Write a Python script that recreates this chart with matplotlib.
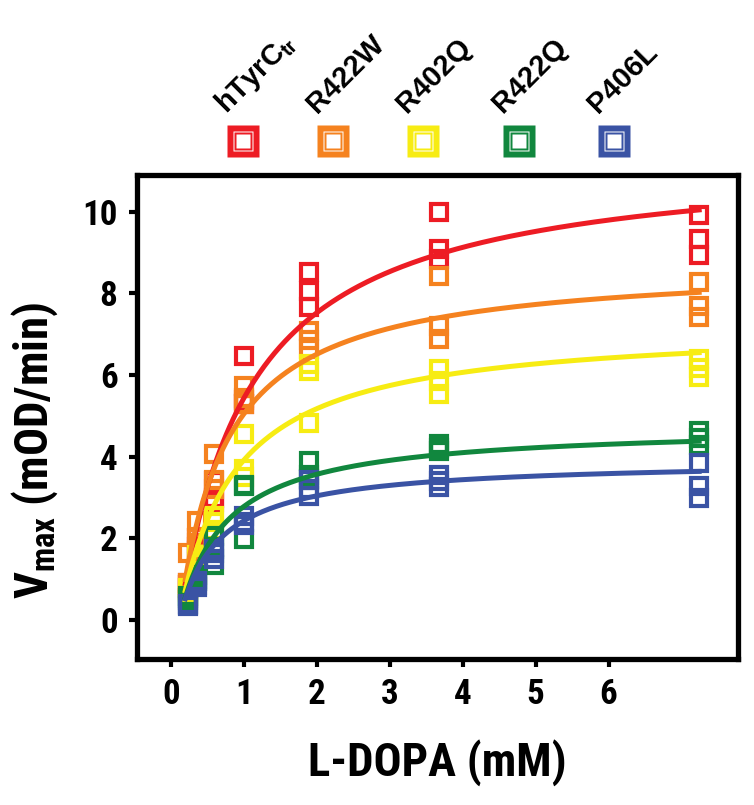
import matplotlib
matplotlib.use("Agg")
import matplotlib.pyplot as plt
from matplotlib import font_manager
from matplotlib.lines import Line2D
import numpy as np

# the original uses a narrow bold sans; take one if it is installed
installed = {f.name for f in font_manager.fontManager.ttflist}
narrow = None
for name in ['Liberation Sans Narrow', 'Roboto Condensed', 'Open Sans Condensed']:
    if name in installed:
        narrow = name
        break
axis_font = [narrow or 'Liberation Sans', 'DejaVu Sans']
scale = 1.2 if narrow else 1.0

plt.rcParams['font.family'] = ['Liberation Sans', 'DejaVu Sans']
plt.rcParams['font.weight'] = 'bold'
plt.rcParams['mathtext.fontset'] = 'custom'
plt.rcParams['mathtext.rm'] = (narrow or 'Liberation Sans') + ':bold'
plt.rcParams['mathtext.it'] = (narrow or 'Liberation Sans') + ':bold'
plt.rcParams['mathtext.bf'] = (narrow or 'Liberation Sans') + ':bold'

# substrate concentrations (mM)
ldopa = [0.1, 0.2, 0.4, 0.75, 1.5, 3, 6]

# triplicate velocities (mOD/min), one list of 3 per concentration
wt = [[0.9, 0.85, 0.8], [2.0, 1.8, 1.7], [3.4, 3.0, 2.9], [6.47, 5.4, 5.3],
      [8.52, 8.07, 7.66], [9.99, 9.09, 8.85], [9.93, 9.34, 8.93]]
r422w = [[1.65, 0.9, 0.85], [2.42, 2.0, 1.9], [4.08, 3.42, 3.2], [5.73, 5.45, 5.3],
         [7.08, 6.85, 6.63], [8.42, 7.2, 6.88], [8.27, 7.70, 7.42]]
r402q = [[0.8, 0.75, 0.7], [1.6, 1.5, 1.4], [2.55, 2.4, 2.2], [4.55, 3.7, 3.5],
         [6.27, 6.1, 4.83], [6.15, 5.85, 5.55], [6.39, 6.17, 5.95]]
r422q = [[0.6, 0.55, 0.5], [1.1, 1.0, 0.95], [2.05, 1.8, 1.35], [3.32, 3.29, 1.98],
         [3.89, 3.55, 3.45], [4.32, 4.22, 4.15], [4.63, 4.45, 4.28]]
p406l = [[0.4, 0.37, 0.34], [0.95, 0.86, 0.82], [1.75, 1.64, 1.5], [2.54, 2.4, 2.33],
         [3.44, 3.2, 3.05], [3.56, 3.4, 3.25], [3.85, 3.28, 3.0]]

# Michaelis-Menten fit parameters
vmax = [11.42, 8.76, 7.24, 4.77, 3.92]
km = [0.821, 0.548, 0.632, 0.532, 0.456]

labels = [r'hTyrC$_\mathrm{tr}$', 'R422W', 'R402Q', 'R422Q', 'P406L']
colors = ['#ED1C24', '#F5821F', '#F7EC13', '#11873E', '#3A53A4']
series = [wt, r422w, r402q, r422q, p406l]

# x tick labels as printed on the original axis
xtick_labels = ['0', '1', '2', '3', '4', '5', '6']
xtick_pos = [-0.098 + 0.842 * k for k in range(7)]

fig = plt.figure(figsize=(7.54, 8.05), dpi=100)
ax = fig.add_axes([0.1817, 0.1814, 0.7973, 0.6012])

xs = np.linspace(0.07, 6, 300)
for vals, vm, k, c in zip(series, vmax, km, colors):
    for conc, reps in zip(ldopa, vals):
        ax.plot([conc] * len(reps), reps, linestyle='none', marker='s', markersize=11.5,
                markeredgewidth=3.0, markeredgecolor=c, markerfacecolor='none', zorder=3)
    ax.plot(xs, vm * xs / (k + xs), color=c, linewidth=3.6, zorder=4)

ax.set_xlim(-0.487, 6.45)
ax.set_ylim(-0.95, 10.9)
ax.set_xticks(xtick_pos)
ax.set_xticklabels(xtick_labels)
ax.set_yticks([0, 2, 4, 6, 8, 10])
for s in ax.spines.values():
    s.set_linewidth(3.8)
ax.tick_params(direction='out', length=6, width=3, labelsize=21 * scale, pad=8)
for t in ax.get_xticklabels() + ax.get_yticklabels():
    t.set_fontweight('bold')
    t.set_family(axis_font)

ax.set_xlabel('L-DOPA (mM)', fontsize=28 * scale, fontweight='bold', family=axis_font)
ax.set_ylabel(r'V$_\mathrm{max}$ (mOD/min)', fontsize=28 * scale, fontweight='bold',
              family=axis_font)
ax.xaxis.set_label_coords(0.5, -0.165)
ax.yaxis.set_label_coords(-0.128, 0.43)

# legend: boxed squares with rotated labels above
leg_x = [242.7, 333.3, 422.7, 519, 614.3]
leg_y = 1 - 141 / 805
for xp, lab, c in zip(leg_x, labels, colors):
    fx = xp / 754
    for ms, fc in [(23, c), (15, 'white'), (13, c), (10.5, 'white')]:
        fig.add_artist(Line2D([fx], [leg_y], marker='s', markersize=ms, markerfacecolor=fc,
                              markeredgecolor='none', linestyle='none',
                              transform=fig.transFigure))
    fig.text((xp - 16) / 754, 1 - 114 / 805, lab, rotation=45, rotation_mode='anchor',
             ha='left', va='baseline', fontsize=21, fontweight='bold')

fig.savefig('out.png', dpi=100)
